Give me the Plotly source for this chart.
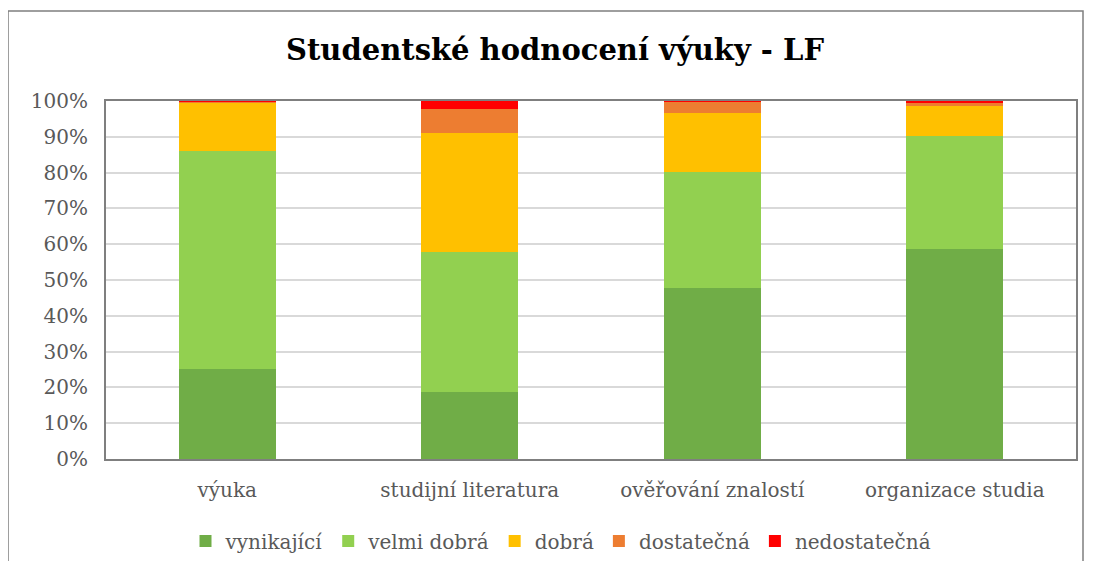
import plotly.graph_objects as go

categories = ["výuka", "studijní literatura", "ověřování znalostí", "organizace studia"]
series_names = ["vynikající", "velmi dobrá", "dobrá", "dostatečná", "nedostatečná"]
vynikajici = [25.1, 18.7, 47.8, 58.7]
velmi_dobra = [60.9, 39.1, 32.4, 31.5]
dobra = [13.7, 33.3, 16.4, 8.5]
dostatecna = [0.1, 6.7, 3.3, 0.9]
nedostatecna = [0.2, 2.2, 0.1, 0.4]
colors = ["#70AD47", "#92D050", "#FFC000", "#ED7D31", "#FF0000"]
y_ticks = [0, 10, 20, 30, 40, 50, 60, 70, 80, 90, 100]
y_tick_labels = [f"{v}%" for v in y_ticks]
title_text = "Studentské hodnocení výuky - LF"

values = [vynikajici, velmi_dobra, dobra, dostatecna, nedostatecna]

FONT = "Georgia, 'DejaVu Serif', serif"

fig = go.Figure()
for name, vals, col in zip(series_names, values, colors):
    fig.add_trace(go.Bar(
        x=categories, y=vals, name=name,
        marker=dict(color=col, line=dict(width=0)),
    ))

# page body has an 8px margin; work in window pixels and convert
OFF = 8
W, H = 1094 - OFF, 569 - 2 * OFF
L = 106 - OFF
T = 101 - OFF
R = W - (1076 - OFF)
B = H - (459 - OFF)
pw = W - L - R
ph = H - T - B

def px(x):  # window x -> paper
    return (x - OFF - L) / pw

def py(y):  # window y -> paper
    return (H - B - (y - OFF)) / ph

fig.update_layout(
    width=W, height=H,
    barmode="stack",
    bargap=0.6,
    margin=dict(l=L, r=R, t=T, b=B, autoexpand=False),
    paper_bgcolor="white",
    plot_bgcolor="white",
    font=dict(family=FONT, color="#595959", size=20),
    title=dict(
        text=f"<b>{title_text}</b>",
        x=px(555), xref="paper", xanchor="center",
        y=1 - (50 - OFF) / H, yref="container", yanchor="middle",
        font=dict(family=FONT, size=29, color="#000000"),
    ),
    legend=dict(
        orientation="h",
        x=px(561), xanchor="center",
        y=py(541), yanchor="middle",
        font=dict(family=FONT, size=20, color="#595959"),
        traceorder="normal",
        itemwidth=30,
    ),
    xaxis=dict(
        showline=True, linecolor="#7f7f7f", linewidth=2, mirror=True,
        ticks="", ticklabelstandoff=12,
        tickfont=dict(family=FONT, size=20, color="#595959"),
        fixedrange=True,
    ),
    yaxis=dict(
        range=[0, 100],
        tickvals=y_ticks, ticktext=y_tick_labels,
        showgrid=True, gridcolor="#d9d9d9", gridwidth=1.5,
        showline=True, linecolor="#7f7f7f", linewidth=2, mirror=True,
        ticks="", ticklabelstandoff=12,
        tickfont=dict(family=FONT, size=20, color="#595959"),
        zeroline=False,
    ),
    shapes=[dict(
        type="rect", xref="paper", yref="paper",
        x0=px(8), x1=px(1083), y0=py(600), y1=py(11),
        line=dict(color="#7f7f7f", width=1.5),
        fillcolor="rgba(0,0,0,0)", layer="below",
    )],
)

fig.write_html("out.html")
